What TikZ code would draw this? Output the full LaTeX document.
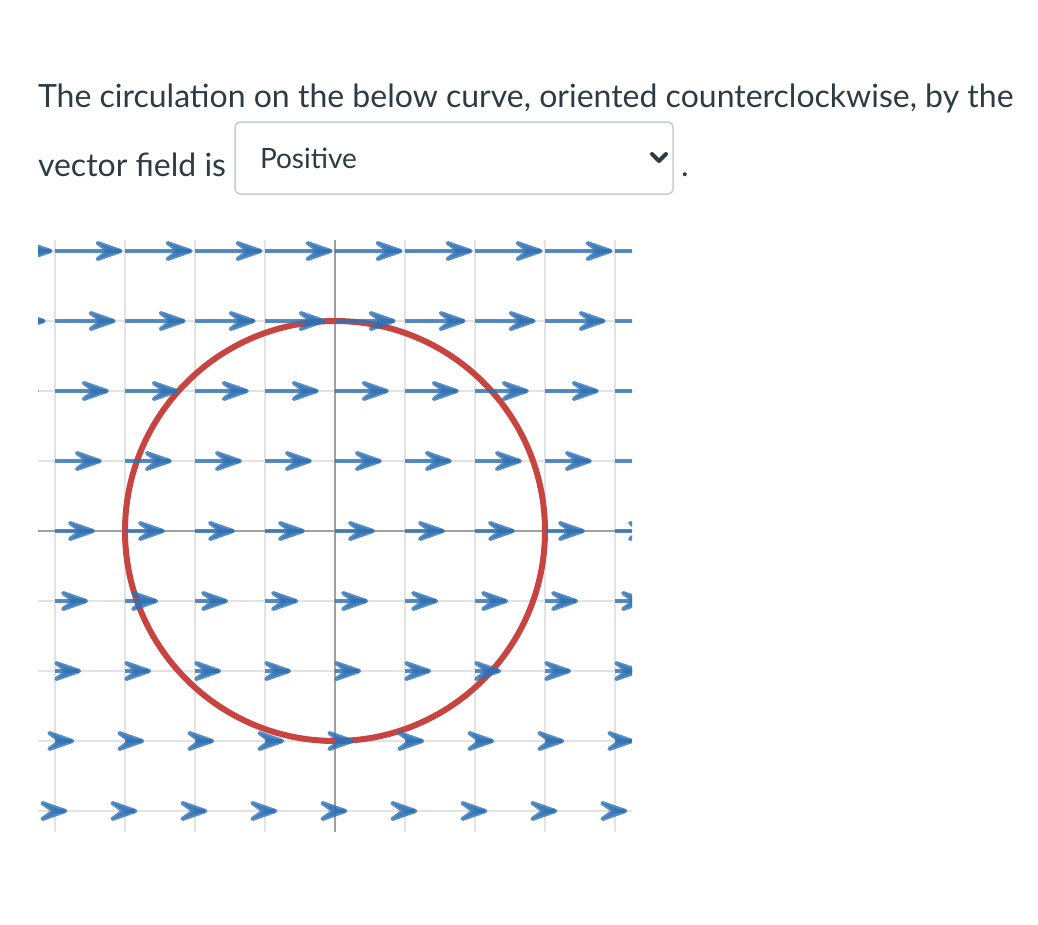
\documentclass[tikz,border=0pt]{standalone}
\usepackage{fontspec}
\setmainfont{Lato}
\definecolor{txt}{HTML}{2D3B45}
\definecolor{boxgray}{HTML}{C7CDD1}
\definecolor{gridc}{HTML}{E3E3E3}
\definecolor{axisc}{HTML}{A0A0A0}
\definecolor{fieldblue}{HTML}{2D70B3}
\definecolor{curvered}{HTML}{C74440}
\tikzset{
  body/.style={inner sep=0pt, outer sep=0pt, anchor=base west, text=txt, font=\fontsize{32}{38}\selectfont},
  choice/.style={inner sep=0pt, outer sep=0pt, anchor=base west, text=txt, font=\fontsize{28}{33}\selectfont},
  gridline/.style={draw=gridc, line width=2pt},
  axisline/.style={draw=axisc, line width=2pt},
  shaft/.style={draw=fieldblue, draw opacity=0.8, line width=4pt},
  barb/.style={draw=fieldblue, fill=fieldblue, draw opacity=0.8, fill opacity=0.6, line width=4pt, line cap=round, line join=round},
  curve/.style={draw=curvered, line width=6pt},
}
\begin{document}
\begin{tikzpicture}[x=1pt,y=-1pt]
\useasboundingbox (0,0) rectangle (1038,924);
% text
\node[body] (line1) at (38,107) {The circulation on the below curve, oriented counterclockwise, by the};
\node[body] (line2) at (38,176) {vector field is};
\draw[boxgray, line width=1.5pt, rounded corners=5pt] (235,122) rectangle (673,194);
\coordinate (box) at (235,122);
\node[choice] (choice) at (260,168) {Positive};
\draw[txt, line width=4pt, line cap=round, line join=round] (652,154) -- (659,161) -- (666,154);
\node[body] (dot) at (681,176) {.};
% plot
\begin{scope}
\clip (38,240) rectangle (632,832);
\foreach \i in {-4,...,4}{
  \draw[gridline] ({335+70*\i},240) -- ({335+70*\i},832);
  \draw[gridline] (38,{531+70*\i}) -- (632,{531+70*\i});
}
\draw[axisline] (335,240) -- (335,832);
\draw[axisline] (38,531) -- (632,531);
\draw[curve] (335,531) circle (210);
\foreach \j in {-4,...,4}{
  \foreach \i in {-5,...,4}{
    \pgfmathsetmacro{\xa}{335+70*\i}
    \pgfmathsetmacro{\yy}{531-70*\j}
    \pgfmathsetmacro{\xb}{\xa+38+6.9*\j}
    \draw[shaft] (\xa,\yy) -- (\xb,\yy);
    \draw[barb] ({\xb-23},{\yy-8}) -- (\xb,\yy) -- ({\xb-23},{\yy+8}) -- ({\xb-12},\yy) -- cycle;
  }
}
\end{scope}
\end{tikzpicture}
\end{document}
